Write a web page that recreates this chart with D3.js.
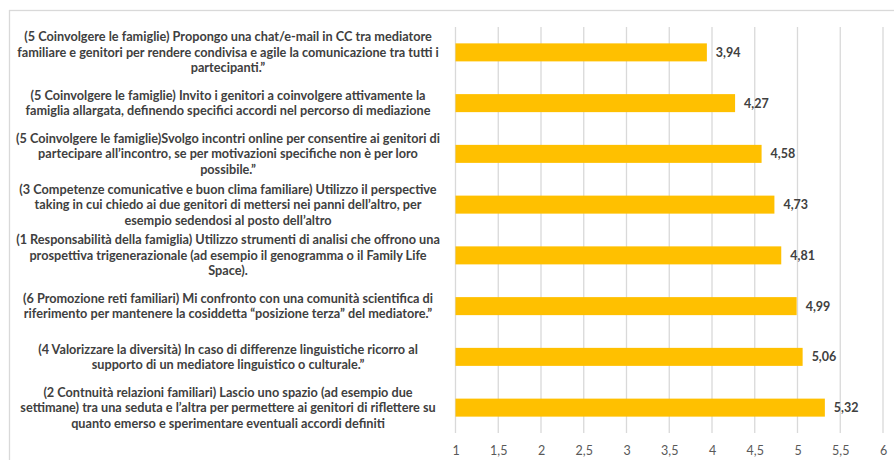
<!DOCTYPE html>
<html>
<head>
<meta charset="utf-8">
<script src="https://cdn.jsdelivr.net/npm/d3@7"></script>
<style>
  body { margin: 0; background: #fff; }
  svg { display: block; font-family: Lato, "Open Sans", sans-serif; }
</style>
</head>
<body>
<div id="chart"></div>
<script>
// categories, top to bottom (line breaks as in the original)
var categories = [
  "(5 Coinvolgere le famiglie) Propongo una chat/e-mail in CC tra mediatore\nfamiliare e genitori per rendere condivisa e agile la comunicazione tra tutti i\npartecipanti.\u201d",
  "(5 Coinvolgere le famiglie) Invito i genitori a coinvolgere attivamente la\nfamiglia allargata, definendo specifici accordi nel percorso di mediazione",
  "(5 Coinvolgere le famiglie)Svolgo incontri online per consentire ai genitori di\npartecipare all\u2019incontro, se per motivazioni specifiche non \u00e8 per loro\npossibile.\u201d",
  "(3 Competenze comunicative e buon clima familiare) Utilizzo il perspective\ntaking in cui chiedo ai due genitori di mettersi nei panni dell\u2019altro, per\nesempio sedendosi al posto dell\u2019altro",
  "(1 Responsabilit\u00e0 della famiglia) Utilizzo strumenti di analisi che offrono una\nprospettiva trigenerazionale (ad esempio il genogramma o il Family Life\nSpace).",
  "(6 Promozione reti familiari) Mi confronto con una comunit\u00e0 scientifica di\nriferimento per mantenere la cosiddetta \u201cposizione terza\u201d del mediatore.\u201d",
  "(4 Valorizzare la diversit\u00e0) In caso di differenze linguistiche ricorro al\nsupporto di un mediatore linguistico o culturale.\u201d",
  "(2 Contnuit\u00e0 relazioni familiari) Lascio uno spazio (ad esempio due\nsettimane) tra una seduta e l\u2019altra per permettere ai genitori di riflettere su\nquanto emerso e sperimentare eventuali accordi definiti"
]
var values = [3.94, 4.27, 4.58, 4.73, 4.81, 4.99, 5.06, 5.32]
var tickValues = [1, 1.5, 2, 2.5, 3, 3.5, 4, 4.5, 5, 5.5, 6]

var width = 894
var height = 460
var margin = { top: 27, right: 11, bottom: 27, left: 455.5 }

var itLocale = d3.formatLocale({ decimal: ",", thousands: ".", grouping: [3], currency: ["", "\u20ac"] })
var fmtTick = itLocale.format("~g")
var fmtVal = itLocale.format(".2f")

var svg = d3.select("#chart").append("svg")
  .attr("width", width)
  .attr("height", height)

// chart border
svg.append("rect")
  .attr("x", 9.5).attr("y", 10.5)
  .attr("width", width).attr("height", height)
  .attr("fill", "none")
  .attr("stroke", "#d9d9d9")
  .attr("stroke-width", 1.3)

var x = d3.scaleLinear()
  .domain([1, 6])
  .range([margin.left, width - margin.right])

var y = d3.scaleBand()
  .domain(d3.range(categories.length))
  .range([margin.top, height - margin.bottom])
  .paddingInner(0.645)
  .paddingOuter(0.3225)

// gridlines
svg.append("g")
  .selectAll("line")
  .data(tickValues)
  .enter()
  .append("line")
  .attr("x1", d => x(d)).attr("x2", d => x(d))
  .attr("y1", margin.top).attr("y2", height - margin.bottom)
  .attr("stroke", "#d9d9d9")
  .attr("stroke-width", 1.3)

// x axis labels
var xAxis = svg.append("g")
  .attr("transform", "translate(0," + (height - margin.bottom) + ")")
  .call(d3.axisBottom(x).tickValues(tickValues).tickFormat(fmtTick).tickSize(0).tickPadding(13))
xAxis.select(".domain").remove()
xAxis.selectAll("text")
  .attr("fill", "#595959")
  .style("font-size", "12.5px")
  .style("font-family", "Lato, sans-serif")

// bars
svg.append("g")
  .selectAll("rect")
  .data(values)
  .enter()
  .append("rect")
  .attr("x", x(1))
  .attr("y", (d, i) => y(i))
  .attr("width", d => x(d) - x(1))
  .attr("height", y.bandwidth())
  .attr("fill", "#ffc000")

// value labels
svg.append("g")
  .selectAll("text")
  .data(values)
  .enter()
  .append("text")
  .attr("x", d => x(d) + 9)
  .attr("y", (d, i) => y(i) + y.bandwidth() / 2)
  .attr("dy", "0.35em")
  .attr("fill", "#404040")
  .attr("font-weight", "bold")
  .style("font-size", "12.5px")
  .text(d => fmtVal(d))

// category labels, centred multi-line blocks
var labels = svg.append("g")
  .selectAll("text")
  .data(categories)
  .enter()
  .append("text")
  .attr("text-anchor", "middle")
  .attr("fill", "#404040")
  .attr("font-weight", "bold")
  .style("font-size", "12.7px")

var lineH = 15.5
labels.each(function (d, i) {
  var lines = d.split("\n")
  var cy = y(i) + y.bandwidth() / 2
  var t = d3.select(this)
  lines.forEach(function (ln, k) {
    t.append("tspan")
      .attr("x", 228)
      .attr("y", cy + (k - (lines.length - 1) / 2) * lineH)
      .attr("dy", "0.35em")
      .text(ln)
  })
})
</script>
</body>
</html>
